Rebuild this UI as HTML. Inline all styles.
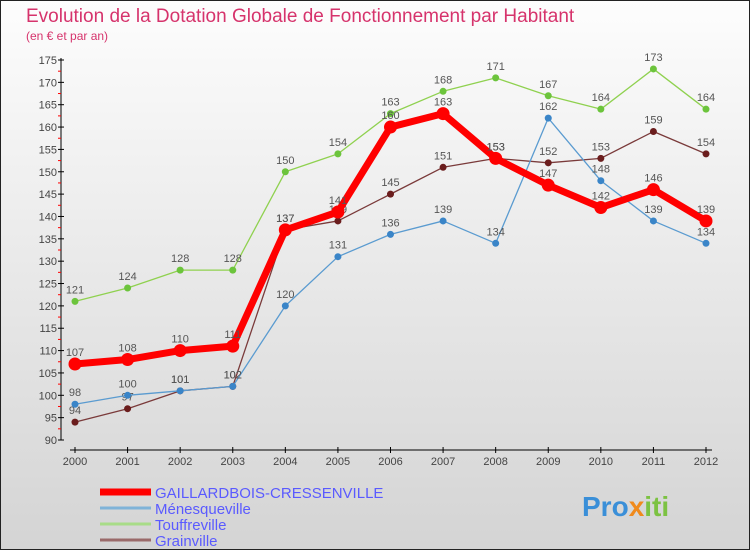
<!DOCTYPE html>
<html><head><meta charset="utf-8"><style>
body{margin:0}
svg{display:block;font-family:"Liberation Sans",sans-serif}
</style></head><body>
<svg width="750" height="550" viewBox="0 0 750 550">
<defs><linearGradient id="bg" x1="0" y1="0" x2="0" y2="1"><stop offset="0" stop-color="#fdfdfd"/><stop offset="1" stop-color="#d4d4d4"/></linearGradient></defs>
<rect x="0.5" y="0.5" width="749" height="549" fill="url(#bg)" stroke="#222"/>
<text x="26" y="22" font-size="19" fill="#d6336c">Evolution de la Dotation Globale de Fonctionnement par Habitant</text>
<text x="26" y="40" font-size="12" fill="#d6336c">(en € et par an)</text>
<g id="axes"></g>
<g id="series"></g>
<g id="legend"></g>
<text x="582" y="516" font-size="28" font-weight="bold" fill="#3a8fd8">Pro<tspan fill="#f08a1c">x</tspan><tspan fill="#7cc242">iti</tspan></text>
</svg>
<script>
const years=[2000,2001,2002,2003,2004,2005,2006,2007,2008,2009,2010,2011,2012];
const yTicks=[90,95,100,105,110,115,120,125,130,135,140,145,150,155,160,165,170,175];
const names=["GAILLARDBOIS-CRESSENVILLE","Ménesqueville","Touffreville","Grainville"];
const gaillardbois=[107,108,110,111,137,141,160,163,153,147,142,146,139];
const menesqueville=[98,100,101,102,120,131,136,139,134,162,148,139,134];
const touffreville=[121,124,128,128,150,154,163,168,171,167,164,173,164];
const grainville=[94,97,101,102,137,139,145,151,153,152,153,159,154];
const NS="http://www.w3.org/2000/svg";
const X=i=>75+i*(706-75)/(years.length-1);
const Y=v=>440-(v-90)*(440-60)/(175-90);
function mk(t,a,p){const e=document.createElementNS(NS,t);for(const k in a)e.setAttribute(k,a[k]);p.appendChild(e);return e;}
const ax=document.getElementById('axes');
let l=mk('line',{x1:61,y1:58,x2:61,y2:440,stroke:'#000'},ax);


yTicks.forEach(v=>{
 const t=mk('line',{x1:58,x2:64,y1:Y(v),y2:Y(v),stroke:'#000'},ax);
 
 
 const m=mk('line',{x1:58,x2:61,y1:Y(v+2.5),y2:Y(v+2.5),stroke:'#f00'},ax);
 if(v===175)m.remove();
 const tx=mk('text',{x:57,y:Y(v)+4,'font-size':11,fill:'#444','text-anchor':'end'},ax);
 tx.textContent=v;
 
 
});
l=mk('line',{x1:70,y1:450,x2:712,y2:450,stroke:'#000'},ax);


years.forEach((y,i)=>{
 mk('line',{x1:X(i),x2:X(i),y1:447,y2:453,stroke:'#000'},ax);
 const tx=mk('text',{x:X(i),y:465,'font-size':11,fill:'#444','text-anchor':'middle'},ax);
 tx.textContent=y;
 
 
});
const sg=document.getElementById('series');
const defs=[
 {d:touffreville,c:'#8fd14f',w:1.3,r:3.5,f:'#6cc43c',n:'touffreville'},
 {d:grainville,c:'#7a3a3a',w:1.3,r:3.5,f:'#6b1d1d',n:'grainville'},
 {d:menesqueville,c:'#5a9bd0',w:1.3,r:3.5,f:'#3a85c8',n:'menesqueville'},
 {d:gaillardbois,c:'#f00',w:7,r:6.5,f:'#f00',n:'gaillardbois'}];
defs.forEach(s=>{
 const g=mk('g',{},sg);
 
 
 const p=mk('polyline',{points:s.d.map((v,i)=>X(i)+','+Y(v)).join(' '),fill:'none',stroke:s.c,'stroke-width':s.w,'stroke-linejoin':'round'},g);
 
 
 s.d.forEach((v,i)=>{
  const c=mk('circle',{cx:X(i),cy:Y(v),r:s.r,fill:s.f},g);
  
  
  const t=mk('text',{x:X(i),y:Y(v)-8,'font-size':11,fill:'#555','text-anchor':'middle'},g);
  t.textContent=v;
  
  
 });
});
const lg=document.getElementById('legend');
const lc=[['#f00',7],['#7fb3d8',3],['#a8dc88',3],['#9a6a6a',3]];
names.forEach((n,i)=>{
 const y=492+i*16;
 const ln=mk('line',{x1:100,x2:151,y1:y,y2:y,stroke:lc[i][0],'stroke-width':lc[i][1]},lg);
 
 
 const t=mk('text',{x:155,y:y+6,'font-size':15,fill:'#5a5aff'},lg);
 t.textContent=n;
 
 
});
</script>
</body></html>
